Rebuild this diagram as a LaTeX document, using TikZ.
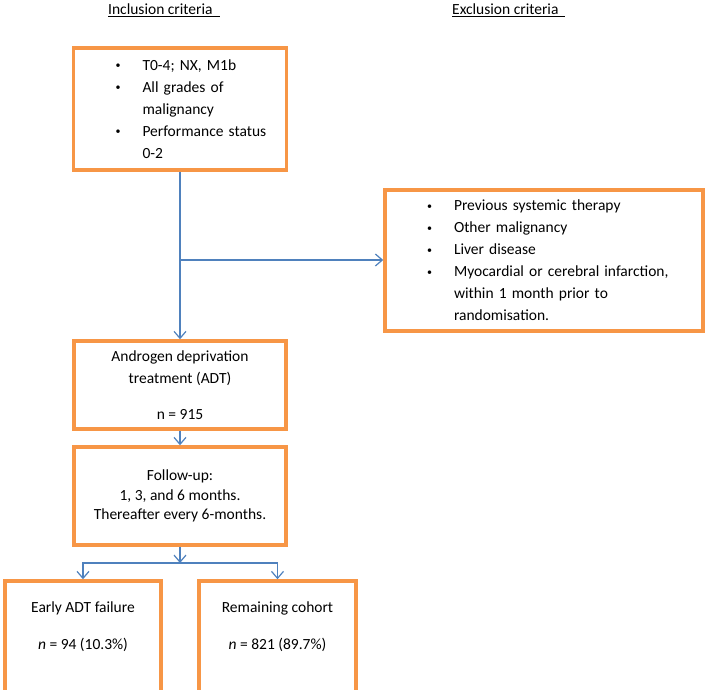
\documentclass[tikz,border=0pt]{standalone}
\usepackage{fontspec}
\setmainfont{Carlito}
\usepackage{tikz}
\usetikzlibrary{arrows.meta}

\definecolor{boxorange}{HTML}{F79646}
\definecolor{flowblue}{HTML}{4F81BD}

\newcommand{\crit}[1]{\hspace*{42pt}\makebox[27pt][l]{\raisebox{1.5pt}{\fontsize{10}{10}\selectfont\textbullet}}#1}
\newcommand{\cont}{\hspace*{69pt}}

\begin{document}
\begin{tikzpicture}[x=1pt, y=-1pt, inner sep=0pt,
		box/.style={draw=boxorange, line width=3.5pt, fill=white},
		txt/.style={font=\fontsize{15.5}{22}\selectfont, align=center},
		head/.style={font=\fontsize{15.5}{18}\selectfont},
		flow/.style={draw=flowblue, line width=1.2pt, -{Straight Barb[length=7pt,width=12pt]}}]
		\useasboundingbox (0,0) rectangle (709,690);
		\clip (0,0) rectangle (709,690);

		\node [head, anchor=base west] (inhead) at (108,15) {\underline{Inclusion criteria\ \ }};
		\node [head, anchor=base west] (exhead) at (452,15) {\underline{Exclusion criteria\ \ }};

		\node [box, txt, align=left, minimum width=213pt, minimum height=122pt, text width=213pt] (incl) at (180,109)
			{\crit{T0-4; NX, M1b}\\ \crit{All grades of}\\ \cont malignancy\\ \crit{Performance status}\\ \cont 0-2};

		\node [box, txt, align=left, minimum width=318pt, minimum height=141pt, text width=318pt] (excl) at (544,260.5)
			{\crit{Previous systemic therapy}\\ \crit{Other malignancy}\\ \crit{Liver disease}\\
			 \crit{Myocardial or cerebral infarction,}\\ \cont within 1 month prior to\\ \cont randomisation.};

		\node [box, txt, minimum width=212pt, minimum height=88pt] (adt) at (180,385)
			{Androgen deprivation\\ treatment (ADT)\\[14pt] n = 915};

		\node [box, txt, font=\fontsize{15.5}{19.5}\selectfont, minimum width=212pt, minimum height=98pt] (follow) at (180,496)
			{Follow-up:\\ 1, 3, and 6 months.\\ Thereafter every 6-months.};

		\node [box, minimum width=156pt, minimum height=139pt] (early) at (83,650.5) {};
		\node [box, minimum width=157pt, minimum height=139pt] (remain) at (277.5,650.5) {};
		\node [txt] (earlytxt) at (83,627) {Early ADT failure\\[15pt] \textit{n} = 94 (10.3\%)};
		\node [txt] (remaintxt) at (277.5,627) {Remaining cohort\\[15pt] \textit{n} = 821 (89.7\%)};

		\coordinate (fork) at (180,260);
		\coordinate (split) at (180,563);

		\draw [flow] (incl.south) -- (adt.north);
		\draw [flow] (fork) -- (fork -| excl.west);
		\draw [flow] (adt.south) -- (follow.north);
		\draw [flow] (follow.south) -- (split);
		\draw [flow] (split) -| (early.north);
		\draw [flow] (split) -| (remain.north);

\end{tikzpicture}
\end{document}
